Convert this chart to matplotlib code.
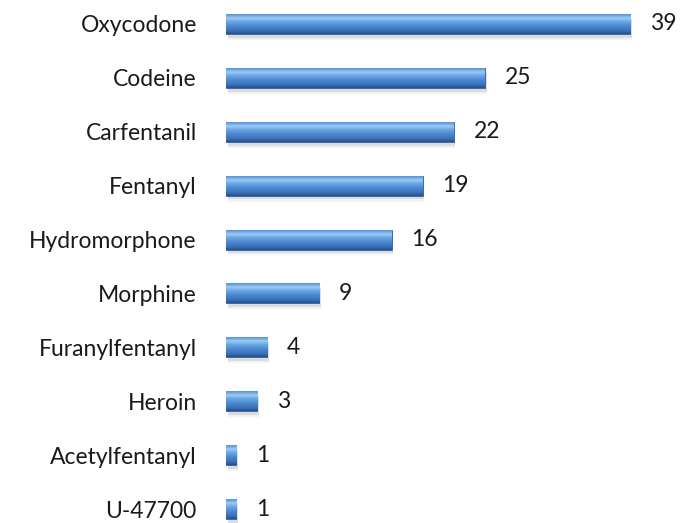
import numpy as np
import matplotlib.pyplot as plt
from matplotlib.colors import LinearSegmentedColormap

# Chart data.
drugs  = ["Oxycodone", "Codeine", "Carfentanil", "Fentanyl", "Hydromorphone",
          "Morphine", "Furanylfentanyl", "Heroin", "Acetylfentanyl", "U-47700"]
counts = [39, 25, 22, 19, 16, 9, 4, 3, 1, 1]

plt.rcParams['font.family'] = ['Lato', 'DejaVu Sans']

fig = plt.figure(figsize=(6.8, 5.23), dpi=100)
ax = fig.add_axes([226/680, 0, 1 - 226/680, 1])

positions  = np.arange(len(drugs))
bar_height = 0.37

# Soft shadow under each bar.
for k, a in [(0.11, 0.05), (0.07, 0.09)]:
  ax.barh(positions + k, counts, height=bar_height, left=0.15,
          color='#000000', alpha=a, linewidth=0, zorder=1)

bars = ax.barh(positions, counts, height=bar_height, color='#4a86cf',
               edgecolor='#2f5f9e', linewidth=0.6, zorder=2)

# Glossy vertical gradient on each bar (top to bottom).
cmap = LinearSegmentedColormap.from_list(
  "gloss", [(0.0, '#5592d8'), (0.2, '#9ccbf5'), (0.38, '#6aa6e4'),
            (0.62, '#4a86cf'), (0.85, '#3a6fb5'), (1.0, '#24508c')])
grad = np.linspace(0, 1, 64).reshape(-1, 1)
for bar in bars:
  x0, y0 = bar.get_x(), bar.get_y()
  w, h = bar.get_width(), bar.get_height()
  im = ax.imshow(grad, cmap=cmap, aspect='auto', origin='upper',
                 extent=(x0, x0 + w, y0 + h, y0), zorder=3)
  im.set_clip_path(bar)

# Value labels.
for pos, value in zip(positions, counts):
  ax.text(value + 1.9, pos, f"{value}", va='center', ha='left',
          fontsize=16.5, color='#1a1a1a')

ax.set_yticks(positions)
ax.set_yticklabels(drugs, fontsize=16.5, color='#1a1a1a')
ax.tick_params(axis='y', length=0, pad=21)
ax.set_xticks([])
ax.set_xlim(0, 454/10.36)
ax.set_ylim(9 + 14/53.9, -24/53.9)
for side in ax.spines.values():
  side.set_visible(False)

fig.savefig("out.png", dpi=100)
